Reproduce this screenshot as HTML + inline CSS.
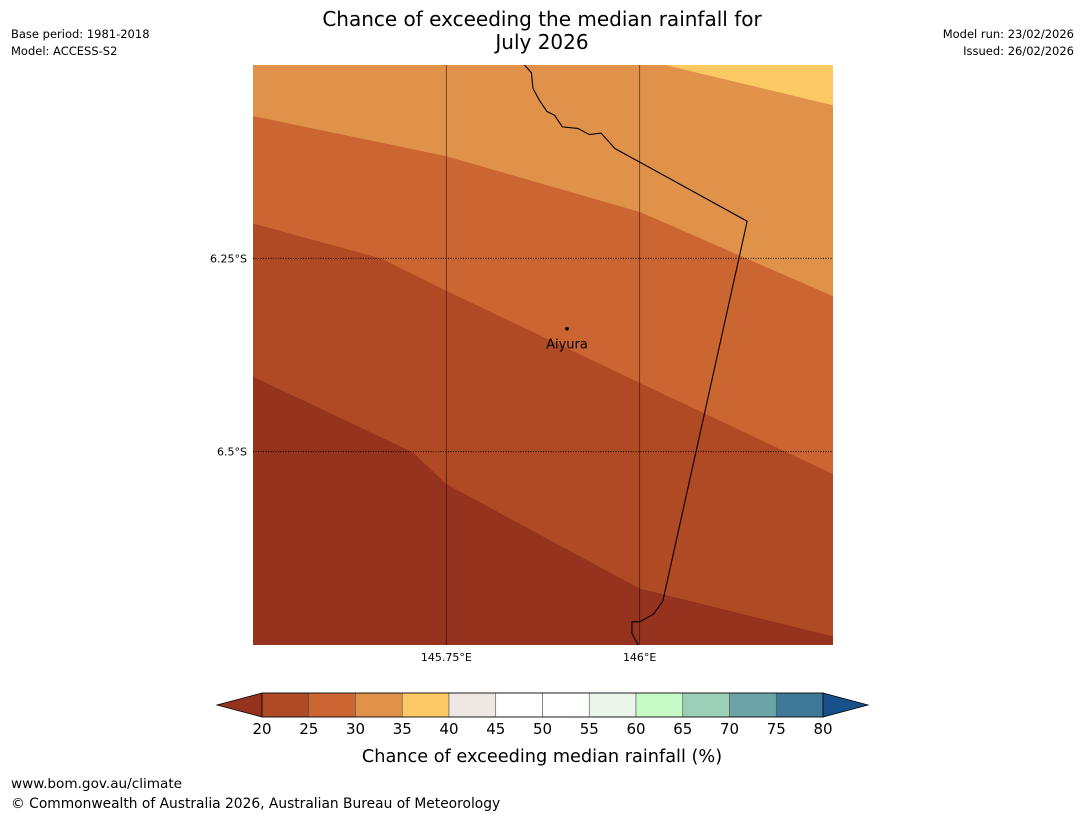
<!DOCTYPE html>
<html><head><meta charset="utf-8"><style>
body{margin:0;background:#fff;font-family:"Liberation Sans","DejaVu Sans",sans-serif}
svg text{font-family:"DejaVu Sans","Liberation Sans",sans-serif}
</style></head><body>
<svg id="c" width="1085" height="816" xmlns="http://www.w3.org/2000/svg">
<text x="542" y="26" font-size="20" text-anchor="middle">Chance of exceeding the median rainfall for</text>
<text x="542" y="49" font-size="20" text-anchor="middle">July 2026</text>
<text x="11" y="38" font-size="11.5">Base period: 1981-2018</text>
<text x="11" y="55" font-size="11.5">Model: ACCESS-S2</text>
<text x="1074" y="38" font-size="11.5" text-anchor="end">Model run: 23/02/2026</text>
<text x="1074" y="55" font-size="11.5" text-anchor="end">Issued: 26/02/2026</text>
<g id="map"></g>
<g id="cbar"></g>
<text x="542" y="762" font-size="17.7" text-anchor="middle">Chance of exceeding median rainfall (%)</text>
<text x="11" y="788" font-size="13.6">www.bom.gov.au/climate</text>
<text x="11" y="808" font-size="13.8">© Commonwealth of Australia 2026, Australian Bureau of Meteorology</text>
</svg>
<script>
// contour boundaries (lon, lat) separating bands, top to bottom
const boundary35 = [[146.033,6.0],[146.25,6.052]];
const boundary30 = [[145.5,6.066],[145.75,6.118],[146.0,6.190],[146.25,6.299]];
const boundary25 = [[145.5,6.205],[145.665,6.25],[145.75,6.292],[146.0,6.411],[146.25,6.529]];
const boundary20 = [[145.5,6.403],[145.707,6.501],[145.75,6.542],[146.0,6.677],[146.25,6.739]];
const bandColors = ['#fdc964','#e0924a','#cb6532','#b04a25','#95331e'];
const lonTicks = [145.75,146.0];
const lonLabels = ['145.75°E','146°E'];
const latTicks = [6.25,6.5];
const latLabels = ['6.25°S','6.5°S'];
const border = [[145.851,6.0],[145.86,6.01],[145.862,6.03],[145.87,6.045],[145.88,6.06],[145.89,6.065],[145.9,6.08],[145.92,6.082],[145.935,6.09],[145.95,6.088],[145.968,6.108],[146.139,6.202],[146.03,6.693],[146.018,6.71],[146.0,6.72],[145.99,6.72],[145.99,6.735],[145.998,6.75]];
const site = {name:'Aiyura', lon:145.906, lat:6.341};
const cbLevels = [20,25,30,35,40,45,50,55,60,65,70,75,80];
const cbColors = ['#b04a25','#cb6532','#e0924a','#fdc964','#ede8e4','#ffffff','#ffffff','#eaf6ea','#c8fac8','#9ccfb8','#6ba3a6','#3e7a98'];
const NS='http://www.w3.org/2000/svg';
const X0=253,X1=833,Y0=65,Y1=645,LON0=145.5,LON1=146.25,LAT0=6.0,LAT1=6.75;
const xs=l=>X0+(l-LON0)/(LON1-LON0)*(X1-X0);
const ys=l=>Y0+(l-LAT0)/(LAT1-LAT0)*(Y1-Y0);
function mk(t,a,p){const e=document.createElementNS(NS,t);for(const k in a)e.setAttribute(k,a[k]);p.appendChild(e);return e;}
const map=document.getElementById('map');
mk('rect',{x:X0,y:Y0,width:X1-X0,height:Y1-Y0,fill:bandColors[0]},map);
const pts=b=>b.map(p=>xs(p[0])+','+ys(p[1])).join(' ');
function band(b,col,name){const poly=mk('polygon',{points:pts(b)+' '+X1+','+Y1+' '+X0+','+Y1,fill:col},map);
}
const p35=mk('polygon',{points:X0+','+Y0+' '+pts(boundary35)+' '+X1+','+Y1+' '+X0+','+Y1,fill:bandColors[1]},map);


band(boundary30,bandColors[2],'band-25-30');
band(boundary25,bandColors[3],'band-20-25');
band(boundary20,bandColors[4],'band-below-20');
lonTicks.forEach((v,i)=>{const l=mk('line',{x1:xs(v),x2:xs(v),y1:Y0,y2:Y1,stroke:'#000','stroke-width':0.8,'stroke-opacity':0.6},map);

const t=mk('text',{x:xs(v),y:Y1+16,'font-size':11,'text-anchor':'middle'},map);t.textContent=lonLabels[i];
});
latTicks.forEach((v,i)=>{const l=mk('line',{x1:X0,x2:X1,y1:ys(v),y2:ys(v),stroke:'#000','stroke-width':1,'stroke-dasharray':'1,1.5'},map);

const t=mk('text',{x:X0-6,y:ys(v)+4,'font-size':11,'text-anchor':'end'},map);t.textContent=latLabels[i];
});
const bl=mk('polyline',{points:pts(border),fill:'none',stroke:'#000','stroke-width':1.1},map);

const dot=mk('circle',{cx:xs(site.lon),cy:ys(site.lat),r:1.8,fill:'#000'},map);

const st=mk('text',{x:xs(site.lon),y:ys(site.lat)+20,'font-size':13,'text-anchor':'middle'},map);st.textContent=site.name;

const cb=document.getElementById('cbar');const C0=262,C1=823,CY=693,CH=24;
const cx=v=>C0+(v-cbLevels[0])/(cbLevels[cbLevels.length-1]-cbLevels[0])*(C1-C0);
const lt=mk('polygon',{points:C0+','+CY+' '+(C0-45)+','+(CY+CH/2)+' '+C0+','+(CY+CH),fill:'#95331e',stroke:'#000','stroke-width':0.8},cb);

const rt=mk('polygon',{points:C1+','+CY+' '+(C1+45)+','+(CY+CH/2)+' '+C1+','+(CY+CH),fill:'#17508a',stroke:'#000','stroke-width':0.8},cb);

cbColors.forEach((c,i)=>{const r=mk('rect',{x:cx(cbLevels[i]),y:CY,width:cx(cbLevels[i+1])-cx(cbLevels[i]),height:CH,fill:c,stroke:'#555','stroke-width':0.6},cb);
});
mk('rect',{x:C0,y:CY,width:C1-C0,height:CH,fill:'none',stroke:'#000','stroke-width':0.8},cb);
cbLevels.forEach(v=>{const t=mk('text',{x:cx(v),y:CY+CH+17,'font-size':15,'text-anchor':'middle'},cb);t.textContent=v;
});
</script>
</body></html>
